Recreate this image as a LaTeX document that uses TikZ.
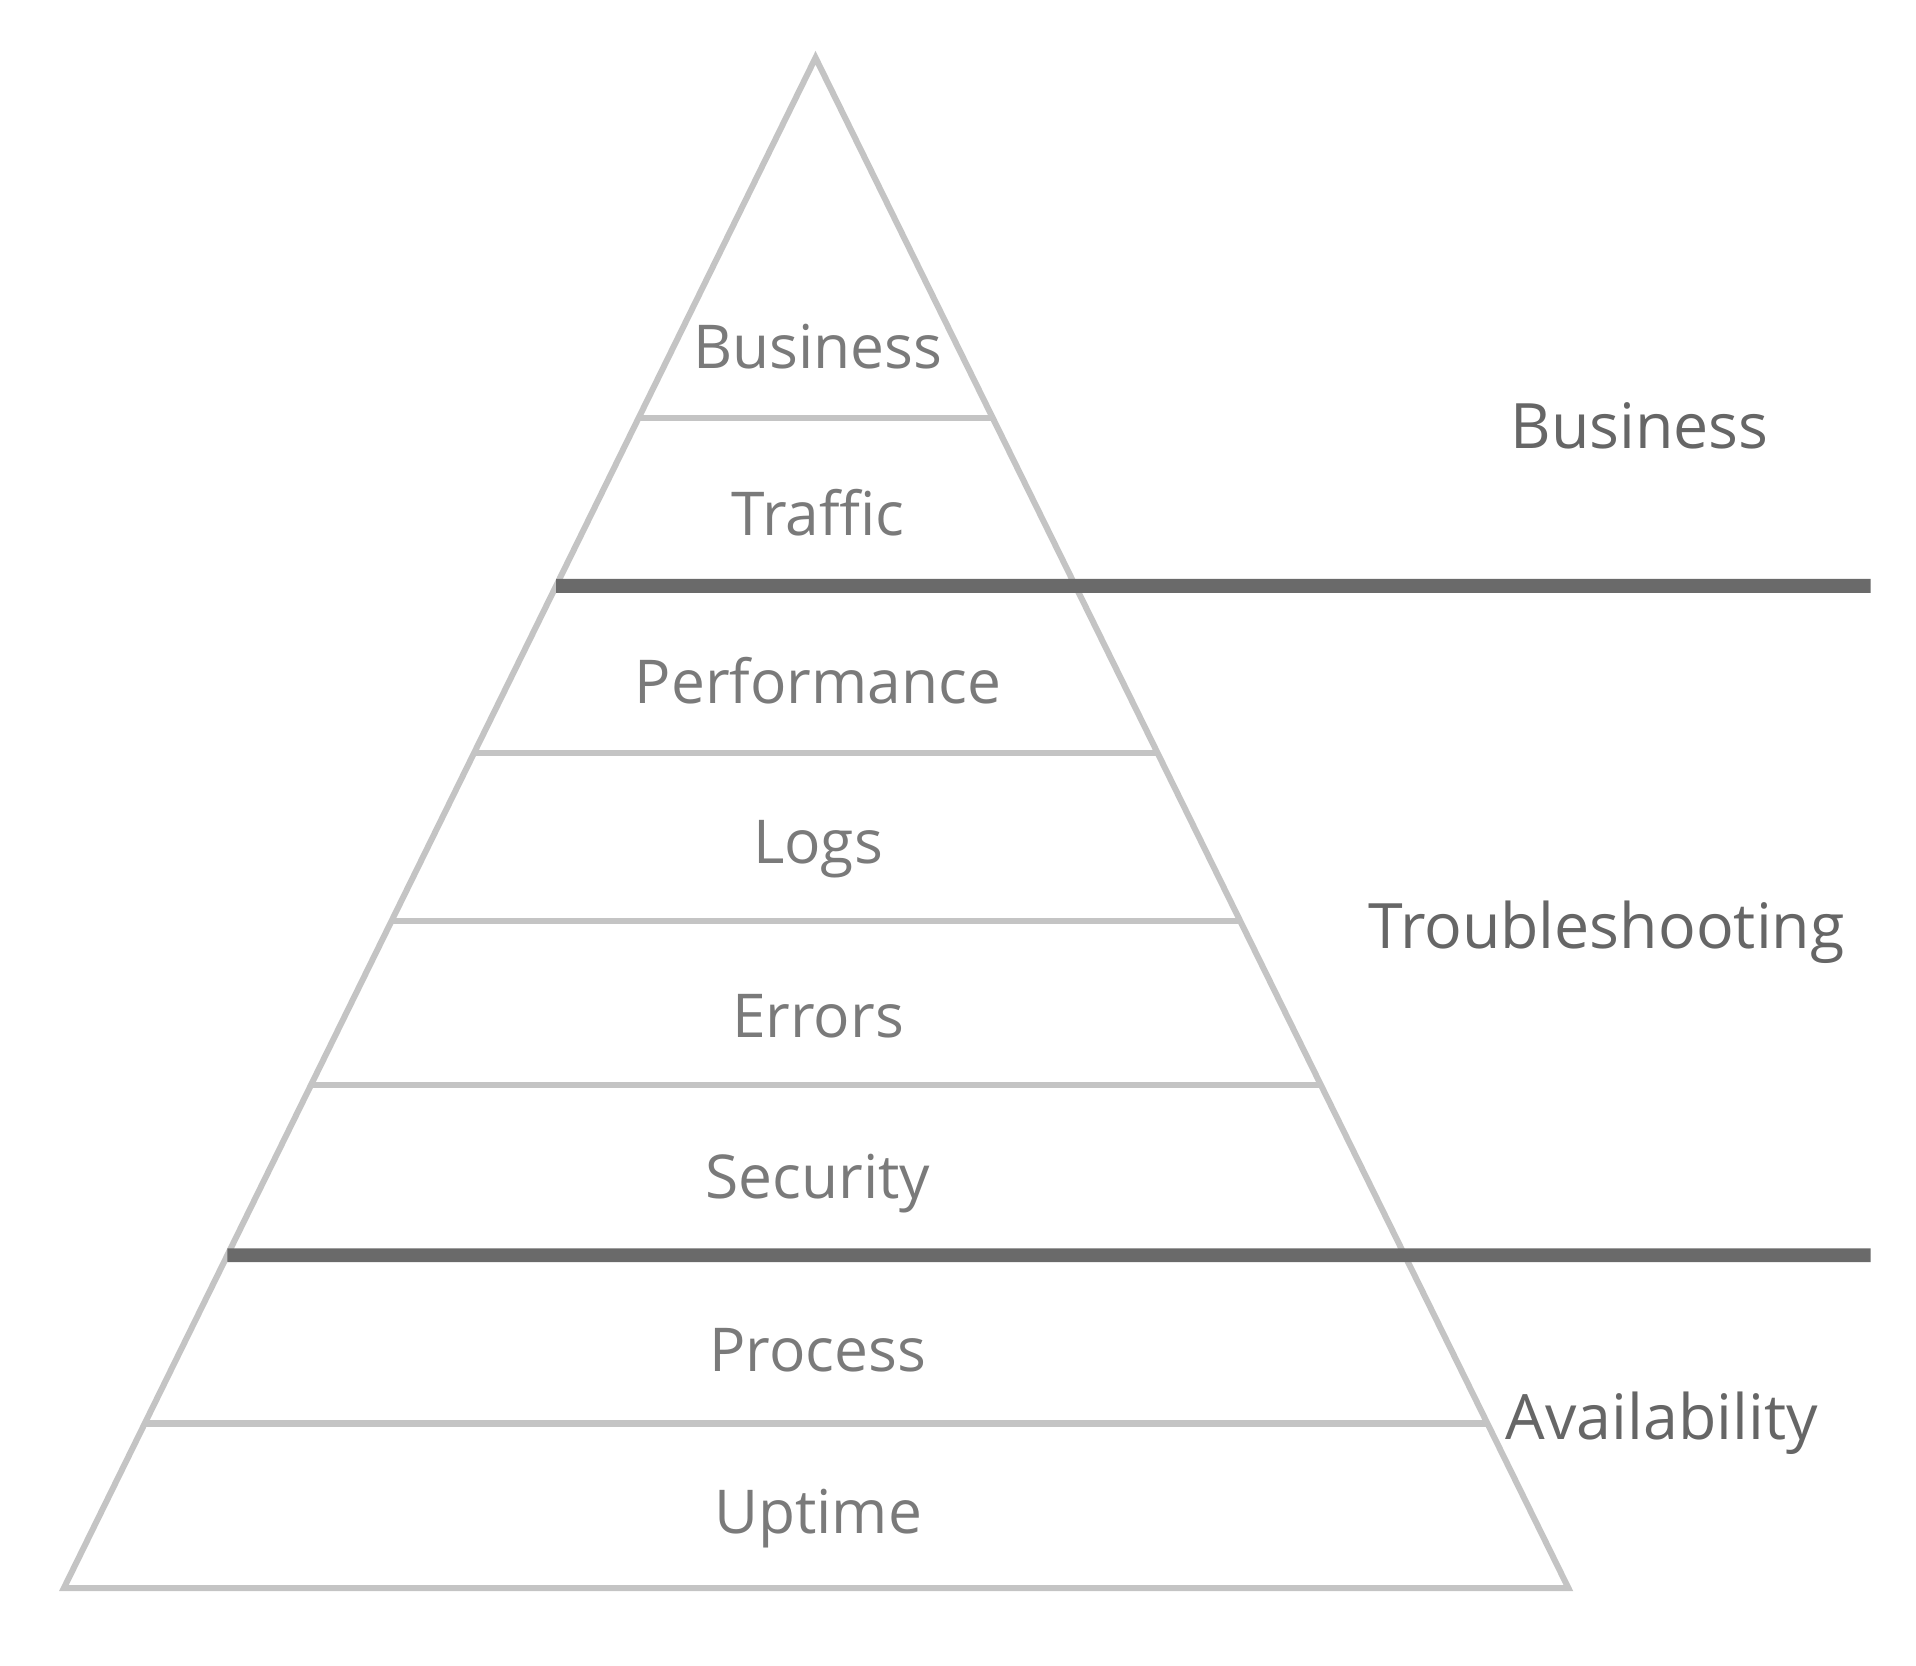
\documentclass[tikz,border=0pt]{standalone}
\usepackage{fontspec}
\setmainfont{Open Sans}
\usetikzlibrary{calc}
\definecolor{edge}{HTML}{C4C4C4}
\definecolor{thick}{HTML}{6A6A6A}
\definecolor{txt}{HTML}{7A7A7A}
\definecolor{rtxt}{HTML}{666666}
\begin{document}
\begin{tikzpicture}[x=0.01cm,y=-0.01cm,
  thin/.style={draw=edge,line width=1.4pt},
  heavy/.style={draw=thick,line width=3.2pt},
  lay/.style={font=\fontsize{14}{16}\selectfont\addfontfeature{FakeBold=0}, text=txt},
  grp/.style={font=\fontsize{14.5}{16}\selectfont, text=rtxt}]
\useasboundingbox (0,0) rectangle (1560,1356);
\coordinate (A) at (664,47);
\coordinate (L) at (52,1293);
\coordinate (R) at (1277,1293);
\draw[thin, line join=miter] (A) -- (L) -- (R) -- cycle;
\foreach \y in {340,613,750,883,1159}{
  \pgfmathsetmacro\t{(\y-47)/1246}
  \draw[thin] ($(A)!\t!(L)$) -- ($(A)!\t!(R)$);
}
\foreach \y in {477,1022}{
  \pgfmathsetmacro\t{(\y-47)/1246}
  \draw[heavy] ($(A)!\t!(L)$) -- (1523,\y);
}
\node[lay] (n1) at (666,282) {Business};
\node[lay] (n2) at (666,417) {Traffic};
\node[lay] (n3) at (666,554) {Performance};
\node[lay] (n4) at (666,691) {Logs};
\node[lay] (n5) at (666,827) {Errors};
\node[lay] (n6) at (666,964) {Security};
\node[lay] (n7) at (666,1099) {Process};
\node[lay] (n8) at (666,1236) {Uptime};
\node[grp] (g1) at (1335,347) {Business};
\node[grp] (g2) at (1308,759) {Troubleshooting};
\node[grp] (g3) at (1353,1159) {Availability};
\end{tikzpicture}
\end{document}
